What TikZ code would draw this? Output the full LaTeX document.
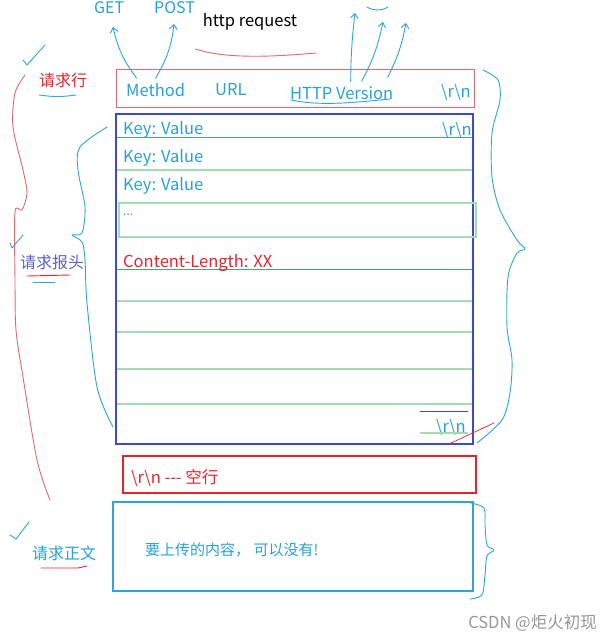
\documentclass[tikz,border=0pt]{standalone}
\usepackage{fontspec}
\setmainfont{Noto Sans CJK SC}
\usetikzlibrary{arrows.meta,positioning}
\definecolor{pencyan}{RGB}{45,165,220}
\definecolor{txtcyan}{RGB}{40,160,215}
\definecolor{hdrblue}{RGB}{62,72,200}
\definecolor{rowgreen}{RGB}{165,218,180}
\definecolor{rowgreendark}{RGB}{75,165,110}
\definecolor{softred}{RGB}{225,105,110}
\definecolor{penred}{RGB}{232,35,45}
\definecolor{labelviolet}{RGB}{95,95,200}
\definecolor{markgray}{RGB}{150,150,150}

\begin{document}
\begin{tikzpicture}[
  x=1pt,y=-1pt,
  txt/.style={inner sep=0pt,anchor=west,font=\fontsize{16.5}{19}\selectfont},
  box/.style={rectangle,inner sep=0pt,outer sep=0pt},
  pen/.style={line width=0.9pt,line cap=round,line join=round},
  penarrow/.style={pen,draw=pencyan,-{Straight Barb[angle=80:6pt]}}
]
\useasboundingbox (0,0) rectangle (609,640);

% the three parts of the request
\node[box,draw=softred,line width=1pt,minimum width=358pt,minimum height=38pt] (reqline) at (295,88) {};
\node[box,draw=hdrblue,line width=2.2pt,minimum width=357pt,minimum height=330pt] (hdr) at (294.5,279) {};
\node[box,draw=penred,line width=2pt,minimum width=353pt,minimum height=37pt] (blank) at (299.5,474.5) {};
\node[box,draw=pencyan,line width=2.2pt,minimum width=360pt,minimum height=89pt] (body) at (293,546.5) {};

% header rows
\foreach \y in {170,301,332,369,404}
  \draw[rowgreen,line width=1.2pt] (117,\y) -- (472,\y);
\foreach \y in {137,269}
  \draw[rowgreendark,line width=1pt] (117,\y) -- (472,\y);
\draw[rowgreen,line width=1.2pt] (119,203) rectangle (476,237);

% request line texts
\node[txt,text=txtcyan] (meth) at (126,90) {Method};
\node[txt,text=txtcyan] (url) at (215,90) {URL};
\node[txt,text=txtcyan] (ver) at (290,93) {HTTP Version};
\node[txt,text=txtcyan,anchor=east] (crlfa) at (471,92) {\textbackslash r\textbackslash n};

% header texts
\node[txt,text=txtcyan] (keya) at (123,130) {Key: Value};
\node[txt,text=txtcyan,anchor=east] (crlfb) at (472,130) {\textbackslash r\textbackslash n};
\node[txt,text=txtcyan] (keyb) at (123,158) {Key: Value};
\node[txt,text=txtcyan] (keyc) at (123,186) {Key: Value};
\node[txt,text=txtcyan,font=\fontsize{12}{14}\selectfont] (dots) at (123,215) {...};
\node[txt,text=penred] (clen) at (123,263) {Content-Length: XX};
\node[txt,text=txtcyan,anchor=east] (crlfc) at (466,427) {\textbackslash r\textbackslash n};
\draw[hdrblue,line width=1pt] (420,411) -- (468,411);
\draw[rowgreen,line width=1.2pt] (420,433) -- (468,433);
\draw[pen,penred,line width=0.7pt] (449,444) -- (494,423);

% blank line and body texts
\node[txt,text=penred] (blanktxt) at (131,478) {\textbackslash r\textbackslash n -{}-{}- 空行};
\node[txt,text=txtcyan,font=\fontsize{15}{18}\selectfont] (bodytxt) at (145,550) {要上传的内容，\ 可以没有!};

% side labels
\node[txt,text=penred,font=\fontsize{16}{19}\selectfont] (lblline) at (39,80) {请求行};
\node[txt,text=labelviolet,font=\fontsize{16}{19}\selectfont] (lblhdr) at (20,262) {请求报头};
\node[txt,text=txtcyan,font=\fontsize{16}{19}\selectfont] (lblbody) at (32,553) {请求正文};

% top notes
\node[txt,font=\fontsize{16.5}{19}\selectfont,anchor=center] (title) at (250,22) {http request};
\node[txt,text=txtcyan,font=\fontsize{16}{19}\selectfont] (get) at (94,8) {GET};
\node[txt,text=txtcyan,font=\fontsize{16}{19}\selectfont] (post) at (154,8) {POST};
\node[txt,text=markgray,font=\fontsize{16.5}{19}\selectfont,anchor=east] (mark) at (597,623) {CSDN @炬火初现};

% free ends of the arrows
\coordinate (getend) at (113,27);
\coordinate (postend) at (174,24);
\coordinate (vera) at (355,13);
\coordinate (verb) at (383,22);
\coordinate (verc) at (406,23);

\draw[penarrow] ([xshift=-19pt,yshift=5pt]meth.north) to[bend left=12] (getend);
\draw[penarrow] ([xshift=0pt,yshift=5pt]meth.north) to[bend right=12] (postend);
\draw[penarrow] ([xshift=9pt,yshift=5pt]ver.north) to[bend left=3] (vera);
\draw[penarrow] ([xshift=20pt,yshift=5pt]ver.north) to[bend right=8] (verb);
\draw[penarrow] ([xshift=46pt,yshift=9pt]ver.north) to[bend right=8] (verc);
\draw[pen,pencyan] (367,7) to[bend right=30] (388,7);

% marks by hand
\draw[pen,softred] (195,49) .. controls (230,60) and (280,56) .. (316,53);
\draw[pen,pencyan] (291,100) .. controls (320,106) and (350,103) .. (390,99);
\draw[pen,pencyan] (23,60) -- (27,65) -- (45,45);
\draw[pen,pencyan] (10,243) -- (12,248) -- (23,235);
\draw[pen,pencyan] (10,535) -- (16,539) -- (29,522);
\draw[pen,pencyan] (39,95) to[bend right=8] (76,95);
\draw[pen,penred] (27,276) -- (70,275);
\draw[pen,pencyan] (33,282) -- (55,282);
\draw[pen,penred] (41,568) -- (78,568) -- (87,566);

% braces by hand
\draw[pen,softred] plot[smooth] coordinates {(25,75) (15,93) (13,127) (23,170) (27,193) (22,210) (15,212) (15,280) (16,330) (23,377) (37,460) (50,500)};
\draw[pen,pencyan] plot[smooth] coordinates {(107,127) (80,147) (78,170) (85,207) (82,233) (72,235) (82,242) (85,260) (87,303) (97,387) (113,427)};
\draw[pen,pencyan] plot[smooth] coordinates {(483,70) (498,80) (500,100) (492,133) (492,177) (500,210) (517,240) (525,249) (517,253) (508,277) (507,327) (512,360) (510,393) (502,420) (477,443)};
\draw[pen,pencyan] plot[smooth] coordinates {(471,503) (484,508) (485,525) (487,545) (494,550) (487,556) (485,575) (482,595) (470,599)};
\end{tikzpicture}
\end{document}
